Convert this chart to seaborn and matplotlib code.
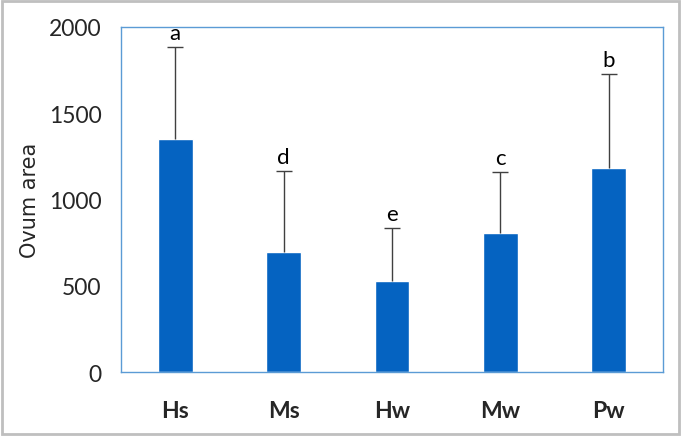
import matplotlib
matplotlib.use("Agg")
import matplotlib.pyplot as plt
import numpy as np
import pandas as pd
import seaborn as sns
from matplotlib.patches import Rectangle

# значения
groups = ["Hs", "Ms", "Hw", "Mw", "Pw"]
ovum_area = [1351, 696, 528, 806, 1180]
sd_upper = [533, 469, 307, 353, 547]
letters = ["a", "d", "e", "c", "b"]

BAR_COLOR = "#0563C1"
FRAME_COLOR = "#5B9BD5"
W, H = 684, 439

sns.set_style("white")
plt.rcParams["font.family"] = ["Lato", "DejaVu Sans"]

df = pd.DataFrame({"group": groups, "area": ovum_area, "sd": sd_upper})
df["top"] = df["area"] + df["sd"]

fig = plt.figure(figsize=(W / 100, H / 100), dpi=100)
ax = fig.add_axes([121 / W, 1 - 373 / H, 542 / W, 345 / H])

sns.barplot(data=df, x="group", y="area", color=BAR_COLOR, width=0.32,
            saturation=1, errorbar=None, ax=ax)

# только верхняя половина планки погрешности
xs = np.arange(len(groups))
ax.vlines(xs, df["area"], df["top"], color="#404040", linewidth=1, zorder=3)
ax.plot(xs, df["top"], linestyle="none", marker="_", markersize=12,
        markeredgewidth=1, color="#404040", zorder=3)

for x, top, lab in zip(xs, df["top"], letters):
    ax.annotate(lab, (x, top), xytext=(0, 3), textcoords="offset points",
                ha="center", va="bottom", fontsize=16, color="black")

ax.set_ylim(0, 2000)
ax.set_xlim(-0.5, len(groups) - 0.5)
ax.set_yticks([0, 500, 1000, 1500, 2000])
ax.set_xlabel("")
ax.set_ylabel("Ovum area", fontsize=15, family=["DejaVu Sans"])
ax.yaxis.set_label_coords(-0.15, 0.5)
ax.tick_params(axis="y", length=0, pad=14, labelsize=16.5)
ax.tick_params(axis="x", length=0, pad=20, labelsize=16.5)
for lab in ax.get_xticklabels():
    lab.set_fontweight("bold")

for side in ["left", "right", "top", "bottom"]:
    ax.spines[side].set_visible(True)
    ax.spines[side].set_color(FRAME_COLOR)
    ax.spines[side].set_linewidth(1)

# серая рамка вокруг всей картинки
fig.patches.append(Rectangle((1.5 / W, 4.5 / H), 677 / W, 433 / H,
                             transform=fig.transFigure, fill=False,
                             edgecolor="#BFBFBF", linewidth=2))

fig.savefig("out.png", dpi=100)
